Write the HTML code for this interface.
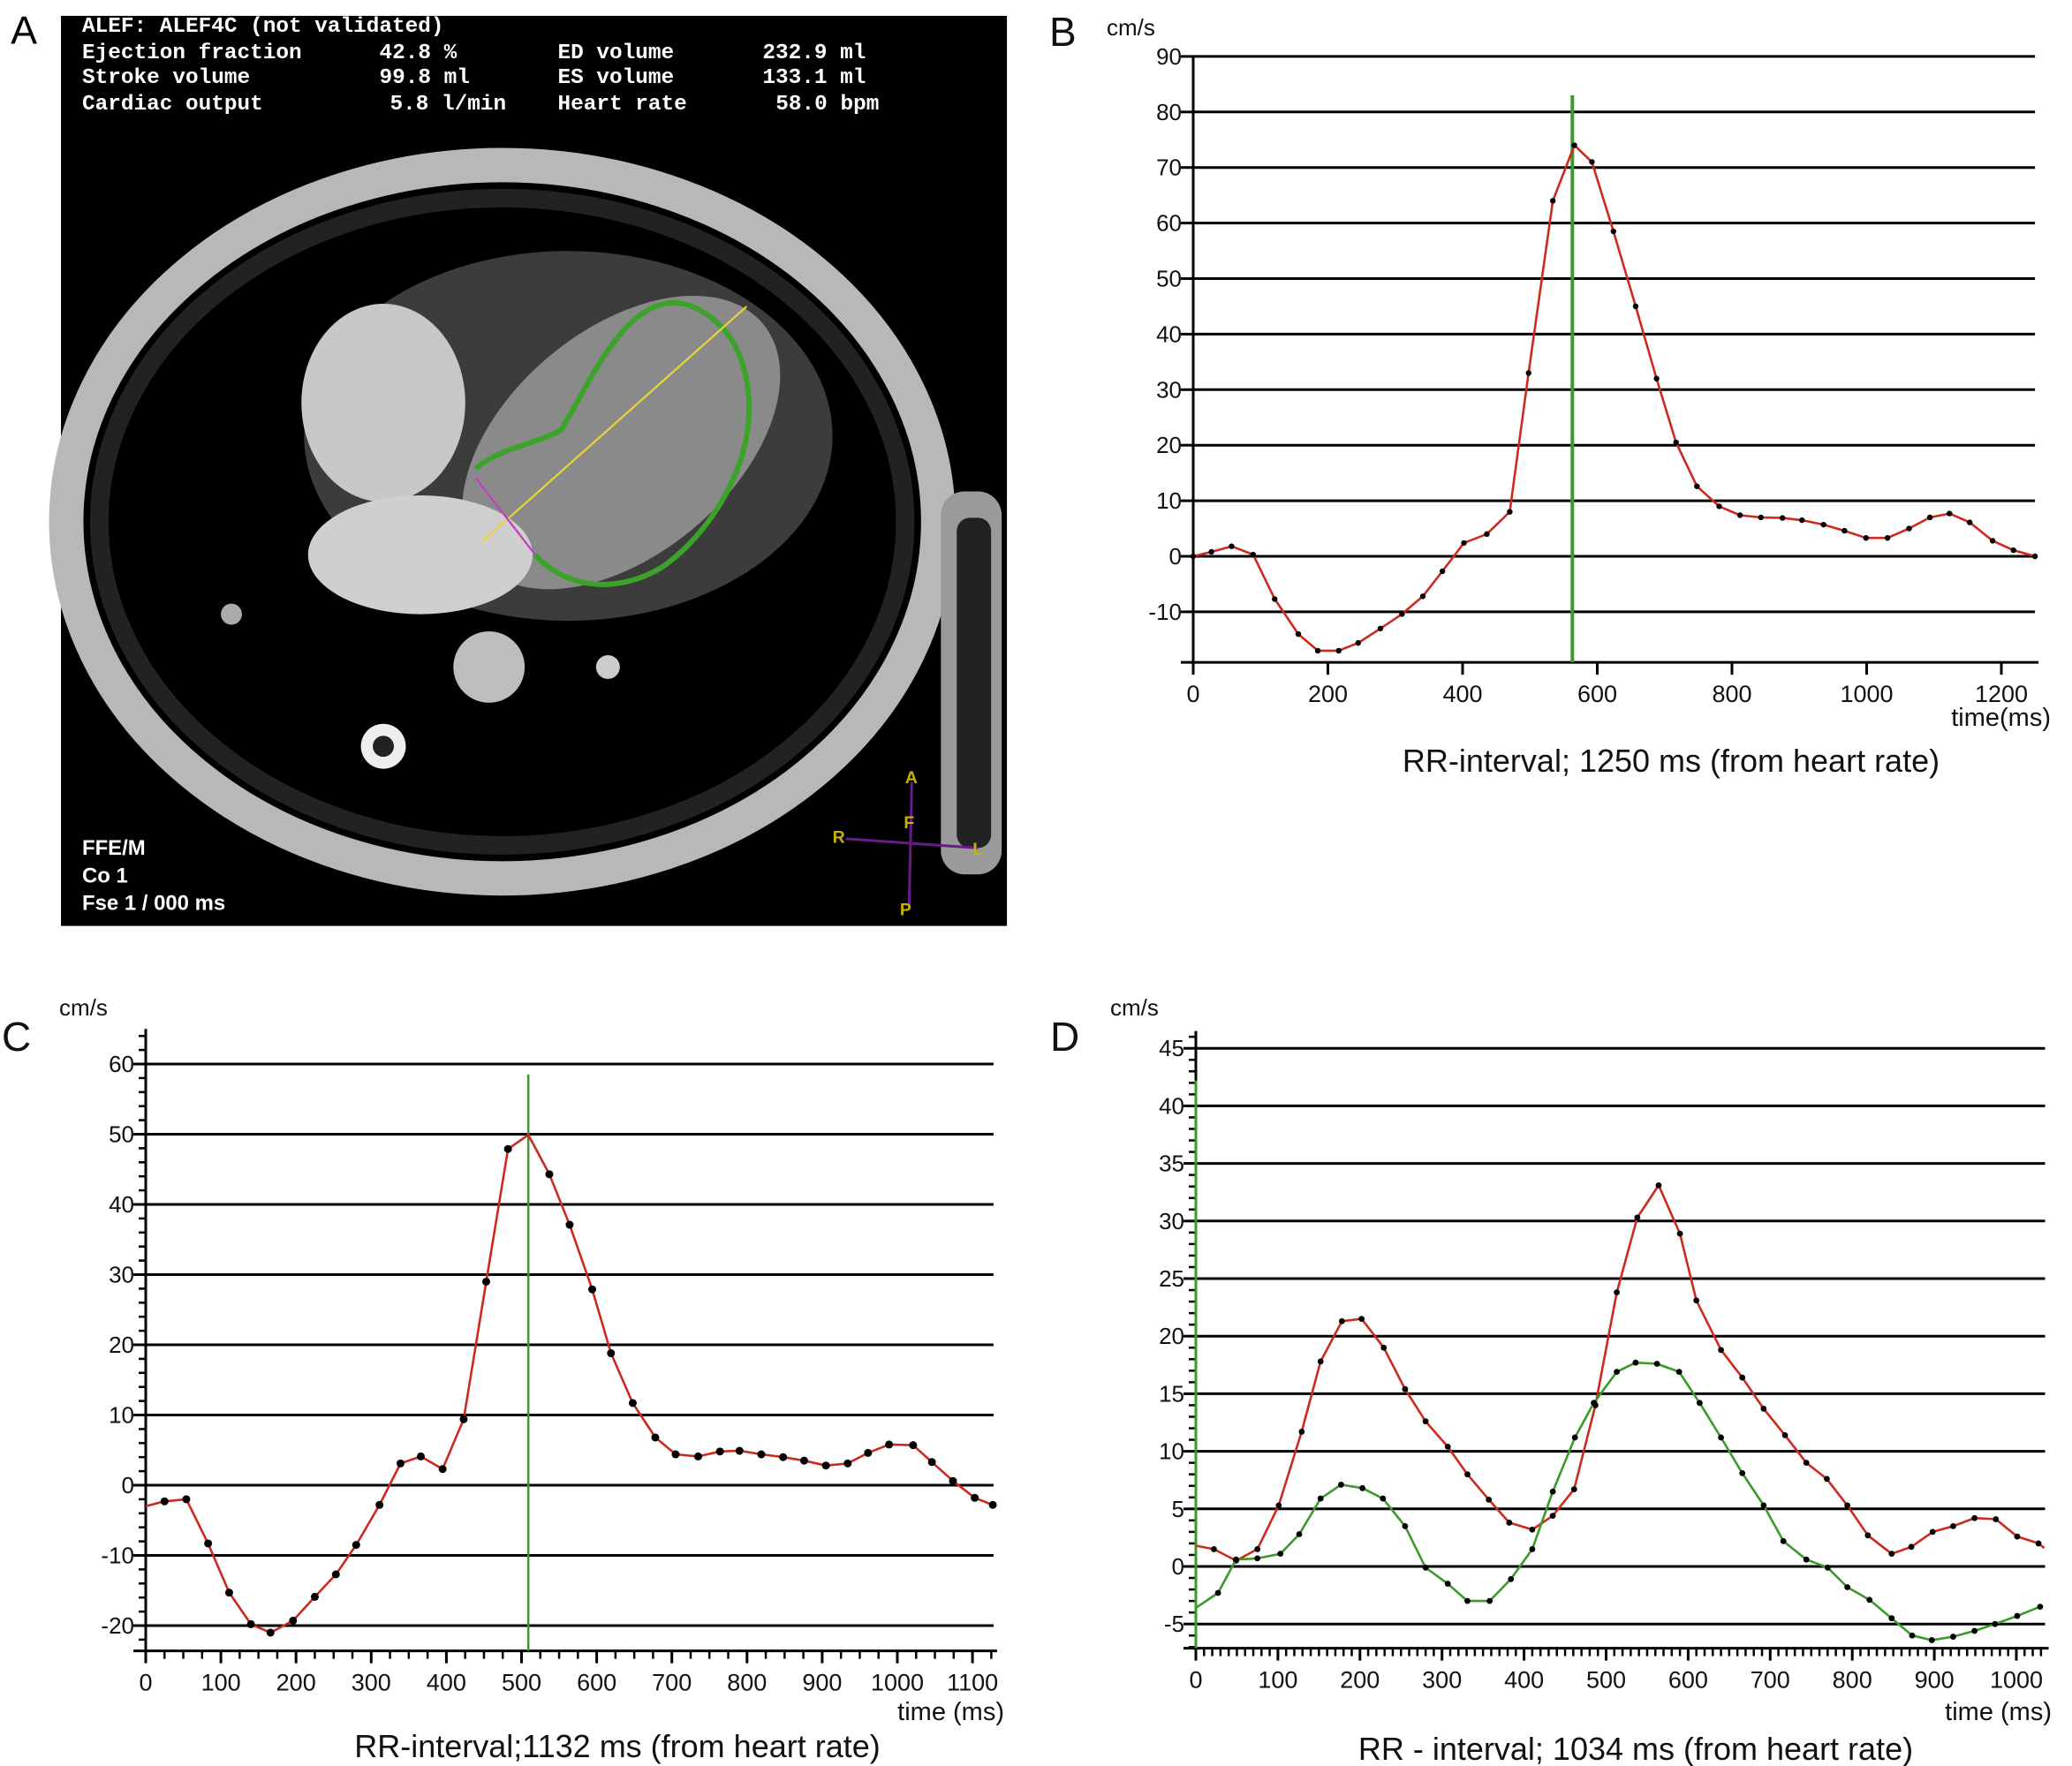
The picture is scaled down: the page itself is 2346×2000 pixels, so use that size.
<!DOCTYPE html>
<html><head><meta charset="utf-8">
<style>
html,body{margin:0;padding:0;background:#fff;}
#root{position:relative;width:2346px;height:2000px;overflow:hidden;background:#fff;}
svg{position:absolute;left:0;top:0;}
text{font-family:"Liberation Sans",Arial,sans-serif;}
.mono{font-family:"Liberation Mono","DejaVu Sans Mono",monospace;font-weight:bold;}
</style></head>
<body>
<div id="root">
<svg id="mri" width="2346" height="2000" viewBox="0 0 1568 1337">
  <text x="8" y="33" font-size="30" fill="#000">A</text>
  <rect x="46" y="12" width="716" height="689" fill="#000"/>
  <g>
    <ellipse cx="380" cy="395" rx="330" ry="270" fill="none" stroke="#b8b8b8" stroke-width="26"/>
    <ellipse cx="380" cy="395" rx="305" ry="245" fill="none" stroke="#222" stroke-width="14"/>
    <ellipse cx="430" cy="330" rx="200" ry="140" fill="#3c3c3c"/>
    <ellipse cx="470" cy="335" rx="140" ry="85" transform="rotate(-40 470 335)" fill="#8a8a8a"/>
    <ellipse cx="290" cy="305" rx="62" ry="75" fill="#c8c8c8"/>
    <ellipse cx="318" cy="420" rx="85" ry="45" fill="#cfcfcf"/>
    <circle cx="370" cy="505" r="27" fill="#bdbdbd"/>
    <circle cx="290" cy="565" r="17" fill="#eee"/>
    <circle cx="290" cy="565" r="8" fill="#222"/>
    <circle cx="175" cy="465" r="8" fill="#aaa"/>
    <circle cx="460" cy="505" r="9" fill="#ccc"/>
    <rect x="712" y="372" width="46" height="290" rx="18" fill="#9a9a9a"/>
    <rect x="724" y="392" width="26" height="250" rx="10" fill="#222"/>
  </g>
  <path d="M360,355 C375,340 410,335 425,325 C440,300 455,265 480,242 C500,225 520,225 540,242 C565,262 570,300 565,330 C558,370 530,410 500,430 C470,448 430,448 405,420" fill="none" stroke="#3ca32a" stroke-width="4"/>
  <line x1="365" y1="410" x2="565" y2="232" stroke="#e6d43a" stroke-width="1.5"/>
  <line x1="360" y1="362" x2="405" y2="420" stroke="#c040c0" stroke-width="1.5"/>
  <g fill="#fff" font-size="16.3">
    <text class="mono" x="62" y="24">ALEF: ALEF4C (not validated)</text>
    <text class="mono" x="62" y="44">Ejection fraction</text><text class="mono" x="287" y="44">42.8 %</text>
    <text class="mono" x="422" y="44">ED volume</text><text class="mono" x="577" y="44">232.9 ml</text>
    <text class="mono" x="62" y="63">Stroke volume</text><text class="mono" x="287" y="63">99.8 ml</text>
    <text class="mono" x="422" y="63">ES volume</text><text class="mono" x="577" y="63">133.1 ml</text>
    <text class="mono" x="62" y="83">Cardiac output</text><text class="mono" x="295" y="83">5.8 l/min</text>
    <text class="mono" x="422" y="83">Heart rate</text><text class="mono" x="587" y="83">58.0 bpm</text>
    <text x="62" y="647" font-size="16" font-weight="bold">FFE/M</text>
    <text x="62" y="668" font-size="16" font-weight="bold">Co 1</text>
    <text x="62" y="689" font-size="16" font-weight="bold">Fse 1 / 000 ms</text>
  </g>
  <g>
    <line x1="640" y1="635" x2="740" y2="642" stroke="#6a1a8a" stroke-width="2"/>
    <line x1="690" y1="592" x2="688" y2="685" stroke="#6a1a8a" stroke-width="2"/>
    <g fill="#c8b400" font-size="13" font-weight="bold">
      <text x="685" y="593">A</text><text x="684" y="627">F</text><text x="630" y="638">R</text>
      <text x="736" y="647">L</text><text x="681" y="693">P</text>
    </g>
  </g>
</svg>
<svg id="charts" width="2346" height="2000"></svg>
</div>
<script>
// ---------- Panel B data ----------
const bTimes = [0,27,57,89,121,156,185,216,245,278,310,341,370,402,436,470,498,534,566,592,624,657,688,717,748,781,812,843,875,904,936,967,999,1031,1063,1094,1123,1153,1187,1218,1250];
const bVel   = [0,0.8,1.8,0.3,-7.7,-14,-17,-17,-15.6,-13,-10.4,-7.2,-2.7,2.4,4,8,33,64,74,71,58.5,45,32,20.5,12.6,9,7.4,7,6.9,6.5,5.7,4.6,3.3,3.3,5,7,7.7,6.1,2.8,1.1,0];
const bYTicks = [-10,0,10,20,30,40,50,60,70,80,90];
const bXTicks = [0,200,400,600,800,1000,1200];
const bMarker = 563;
// ---------- Panel C data ----------
const cTimes = [0,25,54,83,111,140,166,196,225,253,280,311,339,366,395,423,453,482,509,537,564,594,619,648,678,705,735,764,790,819,848,876,905,934,961,989,1021,1046,1074,1103,1127];
const cVel   = [-3,-2.3,-2,-8.3,-15.3,-19.8,-21,-19.3,-15.9,-12.7,-8.5,-2.8,3.1,4.1,2.3,9.4,29,47.9,49.9,44.3,37.1,27.9,18.8,11.7,6.8,4.4,4.1,4.8,4.9,4.4,4,3.5,2.8,3.1,4.6,5.8,5.7,3.3,0.6,-1.8,-2.8];
const cYTicks = [-20,-10,0,10,20,30,40,50,60];
const cXTicks = [0,100,200,300,400,500,600,700,800,900,1000,1100];
const cMarker = 509;
// ---------- Panel D data ----------
const dTimes = [0,22,49,75,101,129,152,178,202,229,255,280,307,331,357,382,410,435,461,487,513,538,564,590,610,640,666,692,718,744,769,794,819,848,872,898,923,949,975,1001,1027,1034];
const dRed   = [1.8,1.5,0.5,1.5,5.3,11.7,17.8,21.3,21.5,19,15.4,12.6,10.4,8,5.8,3.8,3.2,4.4,6.7,14,23.8,30.3,33.1,28.9,23.1,18.8,16.4,13.7,11.4,9,7.6,5.3,2.7,1.1,1.7,3,3.5,4.2,4.1,2.6,2,1.6];
const dGTimes = [0,27,49,75,103,126,152,177,203,228,255,280,307,331,358,384,410,435,462,485,513,536,562,589,614,640,666,692,716,744,770,794,821,848,873,897,923,949,974,1001,1029];
const dGreen = [-3.6,-2.3,0.6,0.7,1.1,2.8,5.9,7.1,6.8,5.9,3.5,-0.1,-1.5,-3,-3,-1.1,1.5,6.5,11.2,14.2,16.9,17.7,17.6,16.9,14.2,11.2,8.1,5.3,2.2,0.6,-0.1,-1.8,-2.9,-4.5,-6,-6.4,-6.1,-5.6,-5,-4.3,-3.5];
const dYTicks = [-5,0,5,10,15,20,25,30,35,40,45];
const dXTicks = [0,100,200,300,400,500,600,700,800,900,1000];

const NS = 'http://www.w3.org/2000/svg';
const svg = document.getElementById('charts');
function mk(tag, attrs, parent){
  const e = document.createElementNS(NS, tag);
  for (const k in attrs) e.setAttribute(k, attrs[k]);
  (parent||svg).appendChild(e);
  return e;
}
function scale(d0,d1,r0,r1){ return v => r0 + (v-d0)*(r1-r0)/(d1-d0); }

function drawChart(cfg){
  const g = mk('g', {});
  
  
  const x = scale(0, 1000, cfg.x0, cfg.x0 + 1000*cfg.pxPerMs);
  const y = scale(0, 10, cfg.y0, cfg.y0 - 10*cfg.pxPerUnit);
  const xEnd = x(cfg.xMax);
  const yBot = y(cfg.yMin), yTop = y(cfg.yTop);
  cfg.yTicks.forEach(v => {
    const l = mk('line', {x1:cfg.x0, x2:xEnd, y1:y(v), y2:y(v), stroke:'#000', 'stroke-width':3}, g);
    
    
    mk('line', {x1:cfg.x0-14, x2:cfg.x0, y1:y(v), y2:y(v), stroke:'#000', 'stroke-width':3}, g);
    const t = mk('text', {x:cfg.x0-13, y:y(v)+9, 'font-size':26, 'text-anchor':'end', fill:'#111'}, g);
    t.textContent = v;
    
    
  });
  if (cfg.yMinor) {
    for (let v = Math.ceil(cfg.yMin/cfg.yMinor)*cfg.yMinor; v <= cfg.yTop; v += cfg.yMinor) {
      mk('line', {x1:cfg.x0-8, x2:cfg.x0, y1:y(v), y2:y(v), stroke:'#000', 'stroke-width':2.5}, g);
    }
  }
  const ya = mk('line', {x1:cfg.x0, x2:cfg.x0, y1:yTop, y2:yBot, stroke:'#000', 'stroke-width':3}, g);
  
  
  const xa = mk('line', {x1:cfg.x0-14, x2:xEnd+4, y1:yBot, y2:yBot, stroke:'#000', 'stroke-width':3}, g);
  
  
  cfg.xTicks.forEach(v => {
    mk('line', {x1:x(v), x2:x(v), y1:yBot, y2:yBot+14, stroke:'#000', 'stroke-width':3}, g);
    const t = mk('text', {x:x(v), y:yBot+45, 'font-size':27, 'text-anchor':'middle', fill:'#111'}, g);
    t.textContent = v;
    
    
  });
  if (cfg.xMinor) {
    for (let v = 0; v <= cfg.xMax; v += cfg.xMinor) {
      mk('line', {x1:x(v), x2:x(v), y1:yBot, y2:yBot+9, stroke:'#000', 'stroke-width':2.5}, g);
    }
  }
  if (cfg.marker !== undefined) {
    const m = mk('line', {x1:x(cfg.marker), x2:x(cfg.marker), y1:y(cfg.markerTop), y2:yBot, stroke:'#3a9a2a', 'stroke-width':cfg.markerW}, g);
    
    
  }
  cfg.series.forEach(s => {
    const pts = s.t.map((tv,i) => x(tv).toFixed(1)+','+y(s.v[i]).toFixed(1)).join(' ');
    const pl = mk('polyline', {points:pts, fill:'none', stroke:s.color, 'stroke-width':2.6, 'stroke-linejoin':'round'}, g);
    
    
    s.t.forEach((tv,i) => {
      if (s.skipDot && s.skipDot.includes(i)) return;
      const c = mk('circle', {cx:x(tv), cy:y(s.v[i]), r:cfg.dotR, fill:'#000'}, g);
      
      
    });
  });
  const p = mk('text', {x:cfg.letterX, y:cfg.letterY, 'font-size':46, fill:'#111'}, g);
  p.textContent = cfg.letter;
  
  
  const u = mk('text', {x:cfg.unitX, y:cfg.unitY, 'font-size':26, fill:'#111'}, g);
  u.textContent = 'cm/s';
  
  
  const tx = mk('text', {x:cfg.timeX, y:cfg.timeY, 'font-size':29, 'text-anchor':'end', fill:'#111'}, g);
  tx.textContent = cfg.timeLabel;
  
  
  const cap = mk('text', {x:cfg.capX, y:cfg.capY, 'font-size':36, 'text-anchor':'middle', fill:'#111'}, g);
  cap.textContent = cfg.caption;
  
  
}

drawChart({name:'chart-b', letter:'B', x0:1351, y0:630, pxPerMs:0.7625, pxPerUnit:6.29, xMax:1250, yMin:-19.1, yTop:90,
  yTicks:bYTicks, xTicks:bXTicks, marker:bMarker, markerTop:83, markerW:4, dotR:3.2,
  series:[{name:'velocity-line', t:bTimes, v:bVel, color:'#cc2a1e'}],
  letterX:1188, letterY:52, unitX:1253, unitY:40, timeX:2322, timeY:822, timeLabel:'time(ms)',
  capX:1892, capY:874, caption:'RR-interval; 1250 ms (from heart rate)'});

drawChart({name:'chart-c', letter:'C', x0:165, y0:1682, pxPerMs:0.851, pxPerUnit:7.95, xMax:1128, yMin:-23.6, yTop:65, yMinor:2, xMinor:25,
  yTicks:cYTicks, xTicks:cXTicks, marker:cMarker, markerTop:58.5, markerW:2.5, dotR:4.5,
  series:[{name:'velocity-line', t:cTimes, v:cVel, color:'#cc2a1e', skipDot:[0,18]}],
  letterX:2, letterY:1190, unitX:67, unitY:1150, timeX:1137, timeY:1948, timeLabel:'time (ms)',
  capX:699, capY:1990, caption:'RR-interval;1132 ms (from heart rate)'});

drawChart({name:'chart-d', letter:'D', x0:1354, y0:1774, pxPerMs:0.929, pxPerUnit:13.04, xMax:1035, yMin:-7.1, yTop:46.5, yMinor:1, xMinor:10,
  yTicks:dYTicks, xTicks:dXTicks, marker:0, markerTop:42.2, markerW:3, dotR:3.4,
  series:[{name:'red-velocity-line', t:dTimes, v:dRed, color:'#cc2a1e', skipDot:[0,41]},
          {name:'green-velocity-line', t:dGTimes, v:dGreen, color:'#3a9a2a', skipDot:[0]}],
  letterX:1189, letterY:1190, unitX:1257, unitY:1150, timeX:2323, timeY:1948, timeLabel:'time (ms)',
  capX:1852, capY:1993, caption:'RR - interval; 1034 ms (from heart rate)'});
</script>
</body></html>
